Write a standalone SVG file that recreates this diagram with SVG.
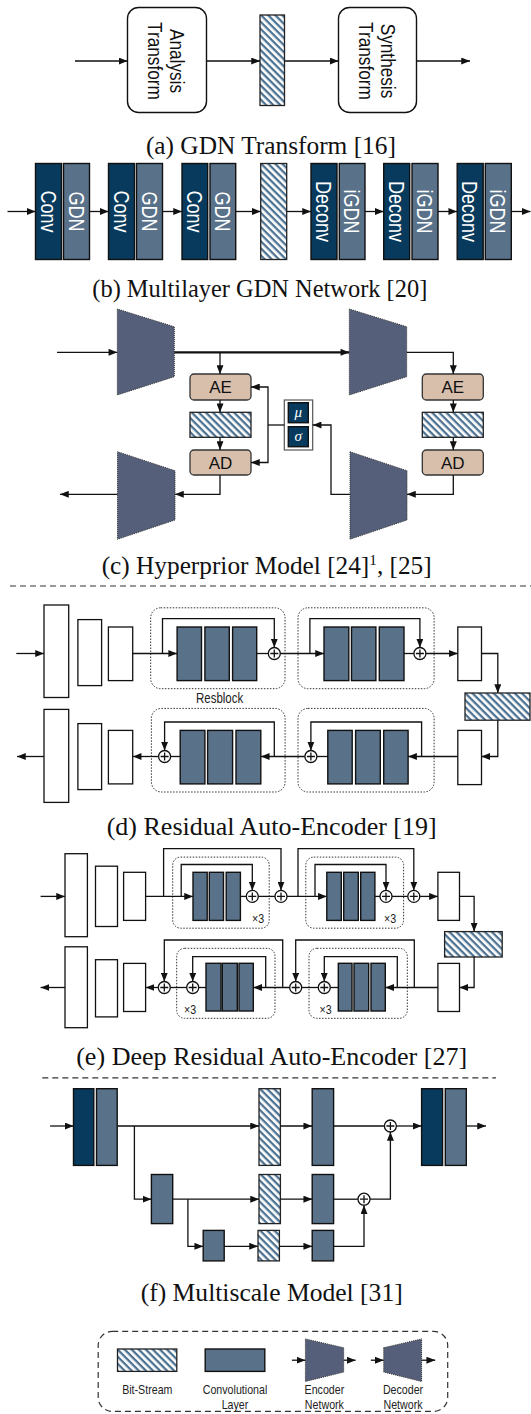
<svg xmlns="http://www.w3.org/2000/svg" width="531" height="1414" viewBox="0 0 531 1414">
<defs>
<marker id="ah" viewBox="0 0 10 8" refX="10" refY="4" markerWidth="9" markerHeight="7" markerUnits="userSpaceOnUse" orient="auto"><path d="M0,0 L10,4 L0,8 z" fill="#111"/></marker>
<pattern id="hatch" width="5" height="5" patternUnits="userSpaceOnUse" patternTransform="rotate(45)"><rect width="5" height="5" fill="#fff"/><rect width="5" height="2.3" fill="#4d7292"/></pattern>
<style>
.ln{fill:none;stroke:#111;stroke-width:1.3}
.ar{marker-end:url(#ah)}
.th{stroke-width:2.2}
.wb{fill:#fff;stroke:#111;stroke-width:1.3}
.rb{fill:#fff;stroke:#111;stroke-width:1.4}
.sl{fill:#5a7289;stroke:#111;stroke-width:1.4}
.dk{fill:#073a5c;stroke:#111;stroke-width:1.4}
.ht{fill:url(#hatch);stroke:#222;stroke-width:1.3}
.tr{fill:#565f79;stroke:#333;stroke-width:1;stroke-dasharray:1 1}
.dot{fill:none;stroke:#333;stroke-width:1;stroke-dasharray:1.5 1.5}
.dash{fill:none;stroke:#333;stroke-width:1.2;stroke-dasharray:6 4}
.tan{fill:#d8bfac;stroke:#333;stroke-width:1.3}
.pc{fill:#fff;stroke:#111;stroke-width:1.3}
.cap{font-family:"Liberation Serif","Times New Roman",serif;font-size:25px;text-anchor:middle;fill:#111}
.nl{font-family:"Liberation Sans",Arial,sans-serif;text-anchor:middle}
.tw{fill:#fff;font-size:22px}
.tb{fill:#111;font-size:21px}
.lg{fill:#222;font-size:13px}
.ae{font-family:"Liberation Sans",Arial,sans-serif;font-size:17px;text-anchor:middle;fill:#111}
.gr{font-family:"Liberation Serif",serif;font-style:italic;font-size:15px;text-anchor:middle;fill:#fff}
</style>
</defs>

<!-- (a) -->
<g id="a-analysis"><rect class="rb" x="127.5" y="7.5" width="79" height="105" rx="11"/>
<text class="nl tb" transform="translate(167,61) rotate(90) scale(0.82,1)"><tspan x="0" y="-3.5">Analysis</tspan><tspan x="0" y="18.5">Transform</tspan></text></g>
<g id="a-bits"><rect class="ht" x="260" y="15" width="24.5" height="90.5"/></g>
<g id="a-synthesis"><rect class="rb" x="338.5" y="7.5" width="78" height="105" rx="11"/>
<text class="nl tb" transform="translate(377.5,61) rotate(90) scale(0.82,1)"><tspan x="0" y="-3.5">Synthesis</tspan><tspan x="0" y="18.5">Transform</tspan></text></g>
<text class="cap" x="270.9" y="154" textLength="250" lengthAdjust="spacingAndGlyphs">(a) GDN Transform [16]</text>

<!-- (b) -->
<g id="b-conv1"><rect class="dk" x="35.5" y="163.5" width="26" height="96"/><text class="nl tw" transform="translate(48.5,211.5) rotate(90) scale(0.82,1)" y="7.8">Conv</text></g>
<g id="b-gdn1"><rect class="sl" x="63.5" y="163.5" width="26" height="96"/><text class="nl tw" transform="translate(76.5,211.5) rotate(90) scale(0.82,1)" y="7.8">GDN</text></g>
<g id="b-conv2"><rect class="dk" x="108.5" y="163.5" width="26" height="96"/><text class="nl tw" transform="translate(121.5,211.5) rotate(90) scale(0.82,1)" y="7.8">Conv</text></g>
<g id="b-gdn2"><rect class="sl" x="136.5" y="163.5" width="26" height="96"/><text class="nl tw" transform="translate(149.5,211.5) rotate(90) scale(0.82,1)" y="7.8">GDN</text></g>
<g id="b-conv3"><rect class="dk" x="182" y="163.5" width="25.7" height="96"/><text class="nl tw" transform="translate(194.8,211.5) rotate(90) scale(0.82,1)" y="7.8">Conv</text></g>
<g id="b-gdn3"><rect class="sl" x="210" y="163.5" width="25.7" height="96"/><text class="nl tw" transform="translate(222.8,211.5) rotate(90) scale(0.82,1)" y="7.8">GDN</text></g>
<g id="b-bits"><rect class="ht" x="260.7" y="163.5" width="26" height="96"/></g>
<g id="b-deconv1"><rect class="dk" x="311" y="163.5" width="26" height="96"/><text class="nl tw" transform="translate(324,211.5) rotate(90) scale(0.82,1)" y="7.8">Deconv</text></g>
<g id="b-igdn1"><rect class="sl" x="339.3" y="163.5" width="25.7" height="96"/><text class="nl tw" transform="translate(352.1,211.5) rotate(90) scale(0.82,1)" y="7.8">iGDN</text></g>
<g id="b-deconv2"><rect class="dk" x="383.7" y="163.5" width="26" height="96"/><text class="nl tw" transform="translate(396.7,211.5) rotate(90) scale(0.82,1)" y="7.8">Deconv</text></g>
<g id="b-igdn2"><rect class="sl" x="412" y="163.5" width="26" height="96"/><text class="nl tw" transform="translate(425,211.5) rotate(90) scale(0.82,1)" y="7.8">iGDN</text></g>
<g id="b-deconv3"><rect class="dk" x="457.2" y="163.5" width="26" height="96"/><text class="nl tw" transform="translate(470.2,211.5) rotate(90) scale(0.82,1)" y="7.8">Deconv</text></g>
<g id="b-igdn3"><rect class="sl" x="485.3" y="163.5" width="26" height="96"/><text class="nl tw" transform="translate(498.3,211.5) rotate(90) scale(0.82,1)" y="7.8">iGDN</text></g>
<text class="cap" x="259.8" y="296.5" textLength="335" lengthAdjust="spacingAndGlyphs">(b) Multilayer GDN Network [20]</text>

<!-- (c) -->
<g id="c-enc1"><polygon class="tr" points="117.3,309 174.3,326.7 174.3,376.7 117.3,395"/></g>
<g id="c-enc2"><polygon class="tr" points="349.3,309 406.7,326.7 406.7,376.7 349.3,395"/></g>
<g id="c-dec1"><polygon class="tr" points="117.5,451.7 175,470.7 175,520 117.5,539.3"/></g>
<g id="c-dec2"><polygon class="tr" points="350,451.7 407,470.7 407,520 350,539.3"/></g>
<g id="c-ae1"><rect class="tan" x="190" y="374" width="61" height="26" rx="4"/><text class="ae" x="220.5" y="393.2">AE</text></g>
<g id="c-bits1"><rect class="ht" x="190" y="412.3" width="61" height="25"/></g>
<g id="c-ad1"><rect class="tan" x="190" y="450" width="61" height="25" rx="4"/><text class="ae" x="220.5" y="468.7">AD</text></g>
<g id="c-ae2"><rect class="tan" x="422.3" y="374" width="61" height="26" rx="4"/><text class="ae" x="452.8" y="393.2">AE</text></g>
<g id="c-bits2"><rect class="ht" x="422.3" y="412.3" width="61" height="25"/></g>
<g id="c-ad2"><rect class="tan" x="422.3" y="450" width="61" height="25" rx="4"/><text class="ae" x="452.8" y="468.7">AD</text></g>
<g id="c-musigma"><rect x="284.3" y="400" width="28.4" height="50" fill="#fff" stroke="#555" stroke-width="1.2"/>
<rect class="dk" x="288.3" y="402.7" width="20" height="20" stroke-width="1"/><rect class="dk" x="288.3" y="426.7" width="20" height="20" stroke-width="1"/>
<text class="gr" x="298.3" y="416.5">μ</text><text class="gr" x="298.3" y="440.5">σ</text></g>
<text class="cap" x="266.7" y="573.7" textLength="330" lengthAdjust="spacingAndGlyphs">(c) Hyperprior Model [24]<tspan font-size="15" dy="-9">1</tspan><tspan dy="9">, [25]</tspan></text>
<path class="dash" d="M10,586 H531"/>

<!-- (d) -->
<g id="d-enc1"><rect class="wb" x="44" y="605" width="24.7" height="92.5"/></g>
<g id="d-enc2"><rect class="wb" x="77.9" y="619.6" width="23.7" height="66"/></g>
<g id="d-enc3"><rect class="wb" x="108.4" y="627" width="24.3" height="53.6"/></g>
<g id="d-resblock1"><rect class="dot" x="150.7" y="607.8" width="134.3" height="80.9" rx="10"/>
<rect class="sl" x="177.1" y="627" width="24.4" height="53.6"/><rect class="sl" x="204.9" y="627" width="24.4" height="53.6"/><rect class="sl" x="232.6" y="627" width="24.1" height="53.6"/>
<text class="nl" transform="translate(219.6,703.3) scale(0.82,1)" font-size="14" fill="#222">Resblock</text></g>
<g id="d-resblock2"><rect class="dot" x="298" y="607.8" width="136.1" height="80.9" rx="10"/>
<rect class="sl" x="324" y="627" width="24.8" height="53.6"/><rect class="sl" x="351.5" y="627" width="24.4" height="53.6"/><rect class="sl" x="379.3" y="627" width="24.7" height="53.6"/></g>
<g id="d-enc4"><rect class="wb" x="457.8" y="627" width="23.7" height="53.6"/></g>
<g id="d-bits"><rect class="ht" x="465" y="693" width="65" height="27.2"/></g>
<g id="d-dec1"><rect class="wb" x="457.8" y="730.4" width="23.7" height="54.2"/></g>
<g id="d-resblock3"><rect class="dot" x="298" y="708.4" width="136.1" height="83.6" rx="10"/>
<rect class="sl" x="327.8" y="730.4" width="24.4" height="53.5"/><rect class="sl" x="355.6" y="730.4" width="24.7" height="53.5"/><rect class="sl" x="383.7" y="730.4" width="24.4" height="53.5"/></g>
<g id="d-resblock4"><rect class="dot" x="151.4" y="708.4" width="133.7" height="83.6" rx="10"/>
<rect class="sl" x="180.2" y="730.4" width="24.7" height="53.5"/><rect class="sl" x="207.6" y="730.4" width="25" height="53.5"/><rect class="sl" x="236" y="730.4" width="24.8" height="53.5"/></g>
<g id="d-dec2"><rect class="wb" x="108.4" y="730.4" width="24.3" height="53.5"/></g>
<g id="d-dec3"><rect class="wb" x="77.9" y="723.6" width="23.7" height="66"/></g>
<g id="d-dec4"><rect class="wb" x="44" y="709.4" width="24.7" height="93"/></g>
<text class="cap" x="271.7" y="834.5" textLength="330" lengthAdjust="spacingAndGlyphs">(d) Residual Auto-Encoder [19]</text>

<!-- (e) -->
<g id="e-enc1"><rect class="wb" x="65" y="853.7" width="22.4" height="83"/></g>
<g id="e-enc2"><rect class="wb" x="95.5" y="866.2" width="22" height="60.3"/></g>
<g id="e-enc3"><rect class="wb" x="123.6" y="872.3" width="22" height="48.1"/></g>
<g id="e-res1"><rect class="dot" x="172.7" y="857.1" width="96.5" height="71.1" rx="8"/>
<rect class="sl" x="193" y="872.3" width="14.2" height="48.1"/><rect class="sl" x="209.3" y="872.3" width="14.2" height="48.1"/><rect class="sl" x="226.2" y="872.3" width="14.2" height="48.1"/>
<text class="nl lg" transform="translate(258,923) scale(0.82,1)">×3</text></g>
<g id="e-res2"><rect class="dot" x="305.8" y="857.1" width="97.8" height="71.1" rx="8"/>
<rect class="sl" x="326.8" y="872.3" width="14.5" height="48.1"/><rect class="sl" x="343.7" y="872.3" width="14.6" height="48.1"/><rect class="sl" x="360.7" y="872.3" width="14.2" height="48.1"/>
<text class="nl lg" transform="translate(390,923) scale(0.82,1)">×3</text></g>
<g id="e-enc4"><rect class="wb" x="437.9" y="872.3" width="21.6" height="48.1"/></g>
<g id="e-bits"><rect class="ht" x="444.6" y="931.6" width="57.6" height="25.4"/></g>
<g id="e-dec1"><rect class="wb" x="437.9" y="963.4" width="21.6" height="48.1"/></g>
<g id="e-res3"><rect class="dot" x="309" y="948.3" width="98.3" height="70" rx="8"/>
<rect class="sl" x="338.3" y="963.3" width="13.7" height="47.7"/><rect class="sl" x="354" y="963.3" width="14.7" height="47.7"/><rect class="sl" x="371" y="963.3" width="14.3" height="47.7"/>
<text class="nl lg" transform="translate(325.5,1014) scale(0.82,1)">×3</text></g>
<g id="e-res4"><rect class="dot" x="176.7" y="948.3" width="98.3" height="70" rx="8"/>
<rect class="sl" x="206" y="963.3" width="15" height="47.7"/><rect class="sl" x="222.3" y="963.3" width="15" height="47.7"/><rect class="sl" x="239" y="963.3" width="14.3" height="47.7"/>
<text class="nl lg" transform="translate(190,1014) scale(0.82,1)">×3</text></g>
<g id="e-dec2"><rect class="wb" x="123.6" y="963.4" width="22" height="48.1"/></g>
<g id="e-dec3"><rect class="wb" x="95.5" y="959.7" width="22" height="57.2"/></g>
<g id="e-dec4"><rect class="wb" x="65" y="946.8" width="22.4" height="80.9"/></g>
<text class="cap" x="271.7" y="1065" textLength="391" lengthAdjust="spacingAndGlyphs">(e) Deep Residual Auto-Encoder [27]</text>
<path class="dash" d="M42.3,1077.8 H496"/>

<!-- (f) -->
<g id="f-in"><rect class="dk" x="73.5" y="1088.7" width="20.3" height="76.7"/><rect class="sl" x="96.5" y="1088.7" width="20.7" height="76.7"/></g>
<g id="f-bits1"><rect class="ht" x="259" y="1088.7" width="21.4" height="76.7"/></g>
<g id="f-conv1"><rect class="sl" x="312.2" y="1088.7" width="21.4" height="76.7"/></g>
<g id="f-out"><rect class="dk" x="421.6" y="1088.7" width="21" height="76.7"/><rect class="sl" x="445.3" y="1088.7" width="21" height="76.7"/></g>
<g id="f-down1"><rect class="sl" x="151.4" y="1174.5" width="21.3" height="49.1"/></g>
<g id="f-bits2"><rect class="ht" x="259" y="1174.5" width="21.4" height="49.1"/></g>
<g id="f-conv2"><rect class="sl" x="312.2" y="1174.5" width="21.4" height="49.1"/></g>
<g id="f-down2"><rect class="sl" x="203.2" y="1230.4" width="21" height="30.5"/></g>
<g id="f-bits3"><rect class="ht" x="258" y="1230.4" width="21.4" height="30.5"/></g>
<g id="f-conv3"><rect class="sl" x="312.2" y="1230.4" width="21.4" height="30.5"/></g>
<text class="cap" x="271.7" y="1300.5" textLength="262" lengthAdjust="spacingAndGlyphs">(f) Multiscale Model [31]</text>

<!-- legend -->
<g id="legend"><rect class="dash" x="98.2" y="1331.4" width="349.5" height="80" rx="14"/></g>
<g id="legend-bits"><rect class="ht" x="117.5" y="1349" width="59.3" height="22.4"/><text class="nl lg" transform="translate(147.3,1394) scale(0.82,1)">Bit-Stream</text></g>
<g id="legend-conv"><rect class="sl" x="205.2" y="1349" width="59.6" height="22.4"/><text class="nl lg" transform="translate(235,1394) scale(0.82,1)"><tspan x="0" y="0">Convolutional</tspan><tspan x="0" y="15.5">Layer</tspan></text></g>
<g id="legend-enc"><polygon class="tr" points="305.4,1338.9 343.7,1347.7 343.7,1372.1 305.4,1381.5"/><text class="nl lg" transform="translate(324.4,1394) scale(0.82,1)"><tspan x="0" y="0">Encoder</tspan><tspan x="0" y="15.5">Network</tspan></text></g>
<g id="legend-dec"><polygon class="tr" points="383.7,1347.7 421.6,1338.9 421.6,1381.5 383.7,1372.1"/><text class="nl lg" transform="translate(403,1394) scale(0.82,1)"><tspan x="0" y="0">Decoder</tspan><tspan x="0" y="15.5">Network</tspan></text></g>

<!-- plus junctions -->
<g id="plus-junctions">
<g id="d-p1"><circle class="pc" cx="274.3" cy="653.5" r="6"/><path class="ln" d="M270.3,653.5 h8 M274.3,649.5 v8"/></g>
<g id="d-p2"><circle class="pc" cx="419.9" cy="653.5" r="6"/><path class="ln" d="M415.9,653.5 h8 M419.9,649.5 v8"/></g>
<g id="d-p3"><circle class="pc" cx="310.9" cy="756.5" r="6"/><path class="ln" d="M306.9,756.5 h8 M310.9,752.5 v8"/></g>
<g id="d-p4"><circle class="pc" cx="164.6" cy="756.5" r="6"/><path class="ln" d="M160.6,756.5 h8 M164.6,752.5 v8"/></g>
<g id="e-p1"><circle class="pc" cx="252.3" cy="896.4" r="6"/><path class="ln" d="M248.3,896.4 h8 M252.3,892.4 v8"/></g>
<g id="e-p2"><circle class="pc" cx="281" cy="896.4" r="6"/><path class="ln" d="M277,896.4 h8 M281,892.4 v8"/></g>
<g id="e-p3"><circle class="pc" cx="386" cy="896.4" r="6"/><path class="ln" d="M382,896.4 h8 M386,892.4 v8"/></g>
<g id="e-p4"><circle class="pc" cx="413.8" cy="896.4" r="6"/><path class="ln" d="M409.8,896.4 h8 M413.8,892.4 v8"/></g>
<g id="e-p5"><circle class="pc" cx="324.3" cy="987.5" r="6"/><path class="ln" d="M320.3,987.5 h8 M324.3,983.5 v8"/></g>
<g id="e-p6"><circle class="pc" cx="295.7" cy="987.5" r="6"/><path class="ln" d="M291.7,987.5 h8 M295.7,983.5 v8"/></g>
<g id="e-p7"><circle class="pc" cx="192.7" cy="987.5" r="6"/><path class="ln" d="M188.7,987.5 h8 M192.7,983.5 v8"/></g>
<g id="e-p8"><circle class="pc" cx="164.3" cy="987.5" r="6"/><path class="ln" d="M160.3,987.5 h8 M164.3,983.5 v8"/></g>
<g id="f-p1"><circle class="pc" cx="390.4" cy="1126" r="6"/><path class="ln" d="M386.4,1126 h8 M390.4,1122 v8"/></g>
<g id="f-p2"><circle class="pc" cx="364" cy="1199.2" r="6"/><path class="ln" d="M360,1199.2 h8 M364,1195.2 v8"/></g>
</g>

<g id="connectors">
<!-- a -->
<path class="ln ar" d="M75,61 H127.5"/>
<path class="ln ar" d="M206.5,61 H260"/>
<path class="ln ar" d="M284.5,61 H338.5"/>
<path class="ln ar" d="M416.5,61 H470"/>
<!-- b -->
<path class="ln ar" d="M7.5,211.5 H35.5"/>
<path class="ln ar" d="M89.5,211.5 H108.5"/>
<path class="ln ar" d="M162.5,211.5 H182"/>
<path class="ln ar" d="M235.7,211.5 H260.7"/>
<path class="ln ar" d="M286.7,211.5 H311"/>
<path class="ln ar" d="M365,211.5 H383.7"/>
<path class="ln ar" d="M438,211.5 H457.2"/>
<path class="ln ar" d="M511.3,211.5 H530.5"/>
<!-- c -->
<path class="ln ar" d="M57,352.3 H117.3"/>
<path class="ln th ar" d="M174.3,352.3 H349.3"/>
<path class="ln ar" d="M220,352.3 V374"/>
<path class="ln ar" d="M220,400 V412.3"/>
<path class="ln ar" d="M220,437.3 V450"/>
<path class="ln ar" d="M220,475 V494.3 H175"/>
<path class="ln ar" d="M117.5,494.3 H60"/>
<path class="ln ar" d="M406.7,352.3 H453.3 V374"/>
<path class="ln ar" d="M453.3,400 V412.3"/>
<path class="ln ar" d="M453.3,437.3 V450"/>
<path class="ln ar" d="M453.3,475 V494.3 H407"/>
<path class="ln ar" d="M350,494.3 H331 V425 H312.7"/>
<path class="ln" d="M284.3,425 H268"/>
<path class="ln ar" d="M268,425 V387 H251"/>
<path class="ln ar" d="M268,425 V462.5 H251"/>
<!-- d -->
<path class="ln ar" d="M16.3,653.5 H44"/>
<path class="ln ar" d="M132.7,653.5 H177.1"/>
<path class="ln ar" d="M162.5,653.5 V618.6 H274.3 V647.5"/>
<path class="ln" d="M256.7,653.5 H268.3"/>
<path class="ln ar" d="M280.3,653.5 H324"/>
<path class="ln ar" d="M309.9,653.5 V618.6 H419.9 V647.5"/>
<path class="ln" d="M404,653.5 H413.9"/>
<path class="ln ar" d="M425.9,653.5 H457.8"/>
<path class="ln ar" d="M481.5,653.5 H497.8 V693"/>
<path class="ln ar" d="M497.8,720.2 V756.5 H481.5"/>
<path class="ln ar" d="M457.8,756.5 H408.1"/>
<path class="ln ar" d="M421.6,756.5 V722 H310.9 V750.5"/>
<path class="ln" d="M327.8,756.5 H316.9"/>
<path class="ln ar" d="M304.9,756.5 H260.8"/>
<path class="ln ar" d="M274.3,756.5 V722 H164.6 V750.5"/>
<path class="ln" d="M180.2,756.5 H170.6"/>
<path class="ln ar" d="M158.6,756.5 H132.7"/>
<path class="ln ar" d="M44,756.5 H17"/>
<!-- e -->
<path class="ln ar" d="M40.6,896.4 H65"/>
<path class="ln ar" d="M145.6,896.4 H193"/>
<path class="ln ar" d="M163.6,896.4 V848.6 H281 V890.4"/>
<path class="ln ar" d="M181.2,896.4 V864.5 H252.3 V890.4"/>
<path class="ln" d="M240.4,896.4 H246.3"/>
<path class="ln" d="M258.3,896.4 H275"/>
<path class="ln ar" d="M287,896.4 H326.8"/>
<path class="ln ar" d="M298,896.4 V848.6 H413.8 V890.4"/>
<path class="ln ar" d="M315,896.4 V864.5 H386 V890.4"/>
<path class="ln" d="M374.9,896.4 H380"/>
<path class="ln" d="M392,896.4 H407.8"/>
<path class="ln ar" d="M419.8,896.4 H437.9"/>
<path class="ln ar" d="M459.5,896.4 H474.1 V931.6"/>
<path class="ln ar" d="M474.1,957 V987.5 H459.5"/>
<path class="ln ar" d="M437.9,987.5 H385.3"/>
<path class="ln ar" d="M414.3,987.5 V940 H295.7 V981.5"/>
<path class="ln ar" d="M397.3,987.5 V956.7 H324.3 V981.5"/>
<path class="ln" d="M338.3,987.5 H330.3"/>
<path class="ln" d="M318.3,987.5 H301.7"/>
<path class="ln ar" d="M289.7,987.5 H253.3"/>
<path class="ln ar" d="M282.7,987.5 V940 H164.3 V981.5"/>
<path class="ln ar" d="M265.7,987.5 V956.7 H192.7 V981.5"/>
<path class="ln" d="M206,987.5 H198.7"/>
<path class="ln" d="M186.7,987.5 H170.3"/>
<path class="ln ar" d="M158.3,987.5 H145.6"/>
<path class="ln ar" d="M65,987.5 H40.6"/>
<!-- f -->
<path class="ln ar" d="M50.1,1126 H73.5"/>
<path class="ln ar" d="M117.2,1126 H259"/>
<path class="ln ar" d="M134.4,1126 V1199.2 H151.4"/>
<path class="ln ar" d="M280.4,1126 H312.2"/>
<path class="ln" d="M333.6,1126 H384.4"/>
<path class="ln ar" d="M396.4,1126 H421.6"/>
<path class="ln ar" d="M466.3,1126 H486"/>
<path class="ln ar" d="M172.7,1199.2 H259"/>
<path class="ln ar" d="M187.9,1199.2 V1246.3 H203.2"/>
<path class="ln ar" d="M280.4,1199.2 H312.2"/>
<path class="ln" d="M333.6,1199.2 H358"/>
<path class="ln ar" d="M370,1199.2 H390.4 V1132"/>
<path class="ln ar" d="M224.2,1246.3 H258"/>
<path class="ln ar" d="M279.4,1246.3 H312.2"/>
<path class="ln ar" d="M333.6,1246.3 H364 V1205.2"/>
<!-- legend -->
<path class="ln ar" d="M291.9,1360.2 H305.4"/>
<path class="ln ar" d="M343.7,1360.2 H355.6"/>
<path class="ln ar" d="M370.8,1360.2 H383.7"/>
<path class="ln ar" d="M421.6,1360.2 H435.2"/>
</g>
</svg>
